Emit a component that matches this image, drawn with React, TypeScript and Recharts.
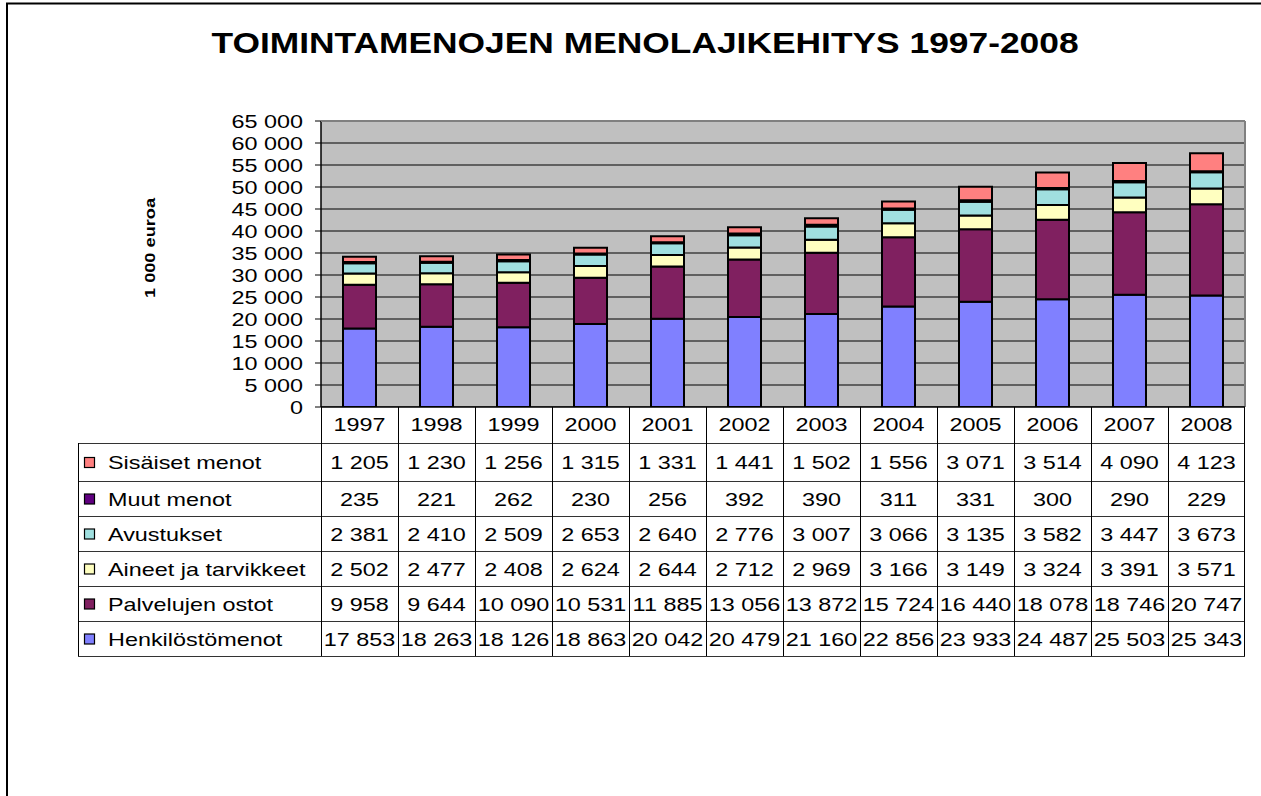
import React from 'react';
import { BarChart, Bar, XAxis, YAxis, CartesianGrid } from 'recharts';

const years = ['1997', '1998', '1999', '2000', '2001', '2002', '2003', '2004', '2005', '2006', '2007', '2008'];
const henkilostomenot = [17853, 18263, 18126, 18863, 20042, 20479, 21160, 22856, 23933, 24487, 25503, 25343];
const palvelujenOstot = [9958, 9644, 10090, 10531, 11885, 13056, 13872, 15724, 16440, 18078, 18746, 20747];
const aineetJaTarvikkeet = [2502, 2477, 2408, 2624, 2644, 2712, 2969, 3166, 3149, 3324, 3391, 3571];
const avustukset = [2381, 2410, 2509, 2653, 2640, 2776, 3007, 3066, 3135, 3582, 3447, 3673];
const muutMenot = [235, 221, 262, 230, 256, 392, 390, 311, 331, 300, 290, 229];
const sisaisetMenot = [1205, 1230, 1256, 1315, 1331, 1441, 1502, 1556, 3071, 3514, 4090, 4123];
const yTicks = [0, 5000, 10000, 15000, 20000, 25000, 30000, 35000, 40000, 45000, 50000, 55000, 60000, 65000];

// stacking order, bottom first
const series = [
  { key: 'henk', name: 'Henkilöstömenot', color: '#8080FF', values: henkilostomenot },
  { key: 'palv', name: 'Palvelujen ostot', color: '#802060', values: palvelujenOstot },
  { key: 'aine', name: 'Aineet ja tarvikkeet', color: '#FFFFC0', values: aineetJaTarvikkeet },
  { key: 'avus', name: 'Avustukset', color: '#A0E0E0', values: avustukset },
  { key: 'muut', name: 'Muut menot', color: '#600080', values: muutMenot },
  { key: 'sisa', name: 'Sisäiset menot', color: '#FF8080', values: sisaisetMenot },
];

const data = years.map((year, i) => {
  const row: Record<string, string | number> = { year };
  series.forEach((s) => (row[s.key] = s.values[i]));
  return row;
});

const fmt = (n: number) => String(n).replace(/\B(?=(\d{3})+(?!\d))/g, ' ');

const FONT = 'Arial, "Liberation Sans", sans-serif';
const STRETCH = 1.3;

// layout
const PLOT_LEFT = 321;
const PLOT_RIGHT = 1245;
const PLOT_TOP = 121;
const PLOT_BOTTOM = 407;
const TABLE_LEFT = 78;
const ROW_LINES = [443, 481, 516, 551, 586, 621, 656];

const YTick = (props: any) => {
  const { x, y, payload } = props;
  return (
    <text
      transform={`translate(${x},${y + 6.5}) scale(${STRETCH},1)`}
      textAnchor="end"
      fontSize={18}
      fontFamily={FONT}
      fill="#000"
    >
      {fmt(payload.value)}
    </text>
  );
};

const Cell = ({ x, y, text, anchor = 'middle' }: { x: number; y: number; text: string; anchor?: string }) => (
  <text
    transform={`translate(${x},${y}) scale(${STRETCH},1)`}
    textAnchor={anchor as any}
    fontSize={18}
    fontFamily={FONT}
    fill="#000"
  >
    {text}
  </text>
);

const Overlay = () => {
  const colW = (PLOT_RIGHT - PLOT_LEFT) / years.length;
  const rows = [...series].reverse();
  return (
    <svg width={1261} height={796} style={{ position: 'absolute', left: 0, top: 0, pointerEvents: 'none' }}>
      {/* outer frame */}
      <line x1={7} y1={3} x2={7} y2={796} stroke="#000" strokeWidth={2} />
      <line x1={6} y1={3.5} x2={1261} y2={3.5} stroke="#000" strokeWidth={2} />

      <text
        transform={`translate(645,53) scale(1.22,1)`}
        textAnchor="middle"
        fontSize={29}
        fontWeight="bold"
        fontFamily={FONT}
      >
        TOIMINTAMENOJEN MENOLAJIKEHITYS 1997-2008
      </text>

      <text
        transform={`translate(155,248) rotate(-90) scale(1.3,1)`}
        textAnchor="middle"
        fontSize={14}
        fontWeight="bold"
        fontFamily={FONT}
      >
        1 000 euroa
      </text>

      {/* plot frame top/right */}
      <line x1={PLOT_LEFT} y1={PLOT_TOP} x2={PLOT_RIGHT} y2={PLOT_TOP} stroke="#808080" strokeWidth={2} />
      <line x1={PLOT_RIGHT} y1={PLOT_TOP} x2={PLOT_RIGHT} y2={PLOT_BOTTOM} stroke="#808080" strokeWidth={2} />

      {/* data table */}
      <rect x={PLOT_LEFT} y={PLOT_BOTTOM} width={PLOT_RIGHT - PLOT_LEFT} height={ROW_LINES[0] - PLOT_BOTTOM} fill="#fff" />
      <line x1={PLOT_LEFT} y1={PLOT_BOTTOM} x2={PLOT_RIGHT} y2={PLOT_BOTTOM} stroke="#000" strokeWidth={1.5} />
      {ROW_LINES.map((y, i) => (
        <line key={`h${i}`} x1={TABLE_LEFT} y1={y + 0.5} x2={PLOT_RIGHT} y2={y + 0.5} stroke="#333" strokeWidth={1} />
      ))}
      <line x1={TABLE_LEFT + 0.5} y1={ROW_LINES[0]} x2={TABLE_LEFT + 0.5} y2={ROW_LINES[6]} stroke="#000" />
      {years.map((_, i) => (
        <line
          key={`v${i}`}
          x1={Math.round(PLOT_LEFT + i * colW) + 0.5}
          y1={PLOT_BOTTOM}
          x2={Math.round(PLOT_LEFT + i * colW) + 0.5}
          y2={ROW_LINES[6]}
          stroke="#000"
        />
      ))}
      <line x1={PLOT_RIGHT - 0.5} y1={PLOT_BOTTOM} x2={PLOT_RIGHT - 0.5} y2={ROW_LINES[6]} stroke="#000" />

      {years.map((yr, i) => (
        <Cell key={`y${i}`} x={PLOT_LEFT + (i + 0.5) * colW} y={431} text={yr} />
      ))}

      {rows.map((s, r) => {
        const mid = (ROW_LINES[r] + ROW_LINES[r + 1]) / 2;
        return (
          <g key={s.key}>
            <rect x={84.5} y={mid - 4.5} width={10} height={10} fill={s.color} stroke="#000" strokeWidth={1.2} />
            <Cell x={108} y={mid + 7} text={s.name} anchor="start" />
            {s.values.map((v, i) => (
              <Cell key={i} x={PLOT_LEFT + (i + 0.5) * colW} y={mid + 7} text={fmt(v)} />
            ))}
          </g>
        );
      })}
    </svg>
  );
};

export default function App() {
  return (
    <div style={{ position: 'absolute', left: 0, top: 0, width: 1261, height: 796, background: '#fff' }}>
      <BarChart
        width={1261}
        height={420}
        data={data}
        margin={{ top: PLOT_TOP, right: 1261 - PLOT_RIGHT, bottom: 420 - PLOT_BOTTOM, left: 0 }}
        barSize={33}
      >
        <CartesianGrid vertical={false} stroke="#000" fill="#C0C0C0" fillOpacity={1} />
        <XAxis dataKey="year" hide />
        <YAxis
          width={PLOT_LEFT}
          domain={[0, 65000]}
          ticks={yTicks}
          interval={0}
          tickSize={6}
          tickMargin={12}
          axisLine={{ stroke: '#000', strokeWidth: 1.5 }}
          tickLine={{ stroke: '#000' }}
          tick={<YTick />}
        />
        {series.map((s) => (
          <Bar
            key={s.key}
            dataKey={s.key}
            name={s.name}
            stackId="a"
            fill={s.color}
            stroke="#000"
            strokeWidth={2}
            isAnimationActive={false}
          />
        ))}
      </BarChart>
      <Overlay />
    </div>
  );
}
